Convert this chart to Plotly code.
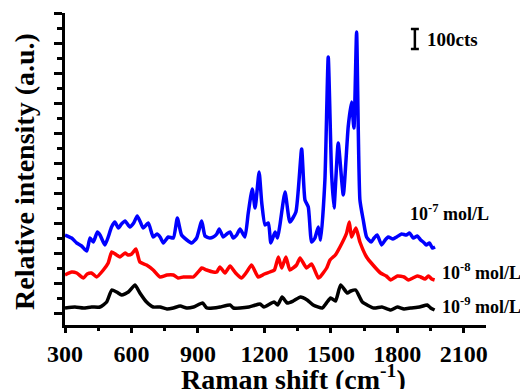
import plotly.graph_objects as go

# Raman shift (cm-1) and intensity (counts, with offsets between spectra)
x_e7 = [300, 330, 353, 375, 398, 413, 428, 446, 458, 480, 495, 510, 525, 541, 555, 571, 593, 610, 626, 640, 653, 676, 698, 715,
        729, 744, 766, 789, 807, 826, 850, 872, 894, 917, 932, 954, 969, 985, 996, 1014, 1030, 1045, 1059, 1075, 1090, 1112,
        1127, 1145, 1158, 1176, 1188, 1203, 1218, 1229, 1248, 1259, 1270, 1293, 1315, 1342, 1368, 1383, 1398, 1413, 1428,
        1443, 1454, 1473, 1488, 1503, 1514, 1533, 1556, 1578, 1593, 1604, 1616, 1631, 1646, 1661, 1682, 1695, 1709, 1729,
        1745, 1759, 1780, 1797, 1819, 1840, 1855, 1872, 1890, 1905, 1917, 1930, 1945, 1958, 1970]
y_e7 = [390, 375, 350, 335, 310, 375, 355, 405, 390, 340, 380, 430, 455, 425, 445, 460, 430, 450, 485, 455, 425, 450, 380, 395,
        380, 350, 380, 375, 475, 390, 365, 350, 375, 460, 385, 375, 380, 395, 420, 380, 395, 405, 375, 390, 420, 380,
        500, 620, 525, 705, 550, 440, 450, 350, 405, 375, 440, 605, 455, 505, 820, 565, 530, 355, 375,
        430, 365, 665, 1280, 700, 525, 850, 590, 930, 1055, 925, 1405, 565, 465, 380, 355, 375, 390, 340,
        365, 380, 370, 380, 395, 390, 400, 375, 385, 365, 355, 340, 350, 325, 330]

x_e8 = [300, 330, 353, 383, 400, 420, 443, 473, 495, 511, 533, 548, 571, 585, 601, 620, 638, 668, 698, 729, 760, 789, 810,
        834, 864, 879, 909, 917, 939, 969, 985, 999, 1022, 1045, 1070, 1097, 1120, 1142, 1172, 1200, 1225, 1245, 1263, 1278,
        1297, 1315, 1345, 1361, 1390, 1413, 1443, 1451, 1481, 1496, 1520, 1541, 1571, 1583, 1593, 1613, 1631, 1661, 1690,
        1724, 1750, 1770, 1800, 1830, 1850, 1870, 1890, 1905, 1925, 1940, 1955, 1968]
y_e8 = [190, 205, 200, 175, 195, 200, 180, 215, 250, 305, 290, 280, 300, 290, 295, 320, 255, 240, 215, 180, 190, 190, 175,
        180, 180, 180, 215, 225, 215, 205, 205, 230, 200, 235, 200, 175, 205, 240, 180, 195, 205, 215, 280, 225,
        280, 215, 240, 275, 225, 245, 175, 180, 225, 265, 290, 330, 400, 455, 380, 425, 355, 280, 240,
        200, 185, 165, 185, 180, 165, 175, 185, 180, 170, 185, 170, 165]

x_e9 = [300, 345, 383, 420, 458, 488, 511, 533, 556, 586, 616, 638, 668, 698, 729, 760, 789, 820, 849, 880, 921, 940, 969,
        1000, 1045, 1060, 1090, 1130, 1180, 1198, 1243, 1260, 1280, 1303, 1330, 1363, 1393, 1420, 1461, 1480, 1499, 1521,
        1544, 1574, 1590, 1612, 1642, 1694, 1730, 1770, 1800, 1830, 1860, 1900, 1935, 1950, 1968]
y_e9 = [25, 30, 25, 30, 30, 55, 115, 105, 90, 105, 140, 100, 55, 30, 30, 20, 25, 35, 25, 30, 50, 25, 25,
        30, 40, 25, 25, 30, 45, 30, 55, 40, 80, 50, 60, 80, 65, 40, 25, 50, 75, 60,
        140, 100, 110, 115, 55, 25, 30, 15, 30, 20, 25, 30, 40, 25, 15]

series_names = ["10<sup>-7</sup> mol/L", "10<sup>-8</sup> mol/L", "10<sup>-9</sup> mol/L"]
series_colors = ["#0000FF", "#FF0000", "#000000"]

x_ticks = [300, 600, 900, 1200, 1500, 1800, 2100]
y_ticks = [0, 150, 300, 450, 600, 750, 900, 1050, 1200, 1350, 1500]

SERIF = "Liberation Serif"

fig = go.Figure()
for xs, ys, nm, col in zip([x_e7, x_e8, x_e9], [y_e7, y_e8, y_e9], series_names, series_colors):
    fig.add_trace(go.Scatter(x=xs, y=ys, mode="lines", name=nm,
                             line=dict(color=col, width=3.5, shape="spline", smoothing=0.5)))

axis_common = dict(showline=True, linecolor="black", linewidth=3, showgrid=False, zeroline=False,
                   ticks="outside", tickwidth=2.5, tickcolor="black", automargin=False)

fig.update_xaxes(**axis_common, range=[300, 2200], tickvals=x_ticks, ticklen=5,
                 tickfont=dict(family=SERIF, size=24, color="black", weight="bold"),
                 minor=dict(ticks="outside", ticklen=3, tickwidth=2.5, tickcolor="black", dtick=150, tick0=300))
fig.update_yaxes(**axis_common, range=[-60, 1500], tickvals=y_ticks, showticklabels=False, ticklen=8,
                 minor=dict(ticks="outside", ticklen=5, tickwidth=2.5, tickcolor="black", dtick=150, tick0=75))

# plot area in page pixels: left 65, right 486, top 13, bottom 325 (page has an 8px body margin)
PL, PR, PT, PB = 65, 486, 13, 325
PW, PH = PR - PL, PB - PT

def px(x):
    return (x - PL) / PW

def py(y):
    return (PB - y) / PH

annos = []
annos.append(dict(text="<b>Raman shift (cm<sup>-1</sup>)</b>", x=px(293), y=py(377),
                  xref="paper", yref="paper", showarrow=False, xanchor="center", yanchor="middle",
                  font=dict(family=SERIF, size=28, color="black")))
annos.append(dict(text="<b>Relative intensity (a.u.)</b>", x=px(24), y=py(172),
                  xref="paper", yref="paper", showarrow=False, xanchor="center", yanchor="middle", textangle=-90,
                  font=dict(family=SERIF, size=28, color="black")))
label_pos = [(408, 213), (440, 271), (440, 305)]
for nm, (lx, ly) in zip(series_names, label_pos):
    annos.append(dict(text="<b>" + nm + "</b>", x=px(lx), y=py(ly),
                      xref="paper", yref="paper", showarrow=False, xanchor="left", yanchor="middle",
                      font=dict(family=SERIF, size=18, color="black")))
annos.append(dict(text="<b>100cts</b>", x=1925, y=1370, xref="x", yref="y", showarrow=False,
                  xanchor="left", yanchor="middle", font=dict(family=SERIF, size=19, color="black")))

bar_x, bar_y0, bar_len, cap = 1879, 1320, 100, 18
shapes = [
    dict(type="line", x0=bar_x, x1=bar_x, y0=bar_y0, y1=bar_y0 + bar_len, xref="x", yref="y",
         line=dict(color="black", width=2.5)),
    dict(type="line", x0=bar_x - cap, x1=bar_x + cap, y0=bar_y0, y1=bar_y0, xref="x", yref="y",
         line=dict(color="black", width=2.5)),
    dict(type="line", x0=bar_x - cap, x1=bar_x + cap, y0=bar_y0 + bar_len, y1=bar_y0 + bar_len, xref="x", yref="y",
         line=dict(color="black", width=2.5)),
]

OFF = 8
fig.update_layout(width=528 - OFF, height=389 - OFF,
                  margin=dict(l=PL - OFF, r=528 - PR, t=PT - OFF, b=389 - PB),
                  paper_bgcolor="white", plot_bgcolor="white", showlegend=False,
                  annotations=annos, shapes=shapes)

fig.write_html("out.html")
